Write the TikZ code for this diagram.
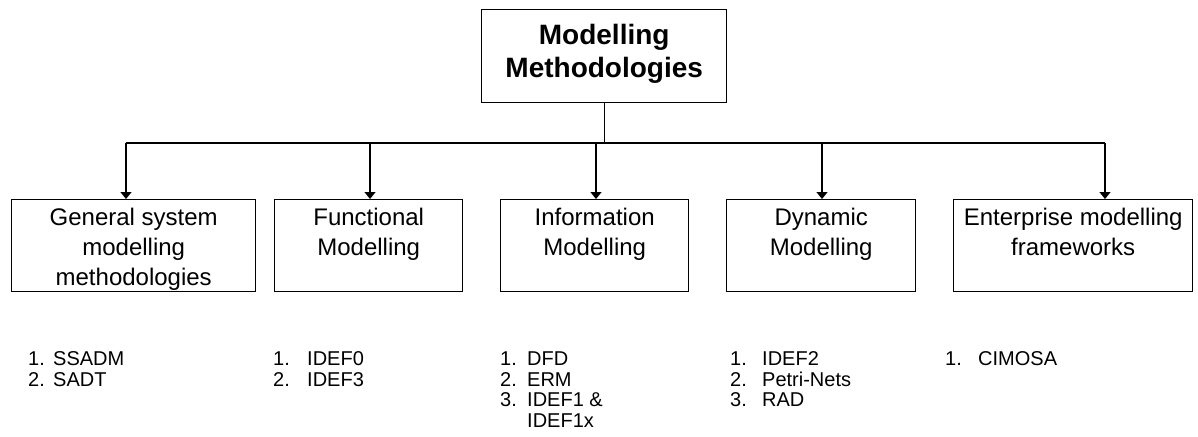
\documentclass[tikz,border=0pt]{standalone}
\usepackage{fontspec}
\setmainfont{Liberation Sans}
\usetikzlibrary{arrows.meta}
\begin{document}
\begin{tikzpicture}[x=1pt,y=-1pt,
  boxshape/.style={draw=black, line width=1.4pt, rectangle, inner sep=0pt, anchor=north west},
  boxtext/.style={anchor=north, inner sep=0pt, align=center, font=\fontsize{24}{30}\selectfont},
  toptext/.style={anchor=north, inner sep=0pt, align=center, font=\bfseries\fontsize{28}{33}\selectfont},
  listtext/.style={anchor=north west, inner sep=0pt, font=\fontsize{20}{20.5}\selectfont},
  conn/.style={line width=1.4pt},
  arr/.style={line width=1.4pt, -{Triangle[width=11pt,length=7pt]}}]
\useasboundingbox (0,0) rectangle (1198,436);
\fill[white] (0,0) rectangle (1198,436);

% top box
\node[boxshape, minimum width=245pt, minimum height=93pt] (top) at (481,9) {};
\node[toptext] (toptxt) at ([yshift=-15pt]top.north) {Modelling\\Methodologies};

% second-level boxes
\node[boxshape, minimum width=244pt, minimum height=92pt] (b1) at (11,199) {};
\node[boxshape, minimum width=188pt, minimum height=92pt] (b2) at (274,199) {};
\node[boxshape, minimum width=188pt, minimum height=92pt] (b3) at (500,199) {};
\node[boxshape, minimum width=189pt, minimum height=92pt] (b4) at (726,199) {};
\node[boxshape, minimum width=239pt, minimum height=92pt] (b5) at (953,199) {};

\node[boxtext] (t1) at ([yshift=-9pt]b1.north) {General system\\modelling\\methodologies};
\node[boxtext] (t2) at ([yshift=-9pt]b2.north) {Functional\\Modelling};
\node[boxtext] (t3) at ([yshift=-9pt]b3.north) {Information\\Modelling};
\node[boxtext] (t4) at ([yshift=-9pt]b4.north) {Dynamic\\Modelling};
\node[boxtext] (t5) at ([yshift=-9pt]b5.north) {Enterprise modelling\\frameworks};

% connectors
\coordinate (jn) at (top.south |- 0,143);
\coordinate (a1) at (126,143);
\coordinate (a2) at (370,143);
\coordinate (a3) at (596,143);
\coordinate (a4) at (822,143);
\coordinate (a5) at (1105,143);
\draw[conn] (top.south) -- (jn);
\draw[conn] (a1) -- (a5);
\draw[arr] (a1) -- (a1 |- b1.north);
\draw[arr] (a2) -- (a2 |- b2.north);
\draw[arr] (a3) -- (a3 |- b3.north);
\draw[arr] (a4) -- (a4 |- b4.north);
\draw[arr] (a5) -- (a5 |- b5.north);

% lists
\node[listtext] (l1) at (28,351) {\begin{tabular}{@{}p{25pt}@{}l@{}}1. & SSADM\\ 2. & SADT\end{tabular}};
\node[listtext] (l2) at (273,351) {\begin{tabular}{@{}p{34pt}@{}l@{}}1. & IDEF0\\ 2. & IDEF3\end{tabular}};
\node[listtext] (l3) at (500,351) {\begin{tabular}{@{}p{27pt}@{}l@{}}1. & DFD\\ 2. & ERM\\ 3. & IDEF1 \&\\ & IDEF1x\end{tabular}};
\node[listtext] (l4) at (730,351) {\begin{tabular}{@{}p{32pt}@{}l@{}}1. & IDEF2\\ 2. & Petri-Nets\\ 3. & RAD\end{tabular}};
\node[listtext] (l5) at (945,351) {\begin{tabular}{@{}p{33pt}@{}l@{}}1. & CIMOSA\end{tabular}};
\end{tikzpicture}
\end{document}
